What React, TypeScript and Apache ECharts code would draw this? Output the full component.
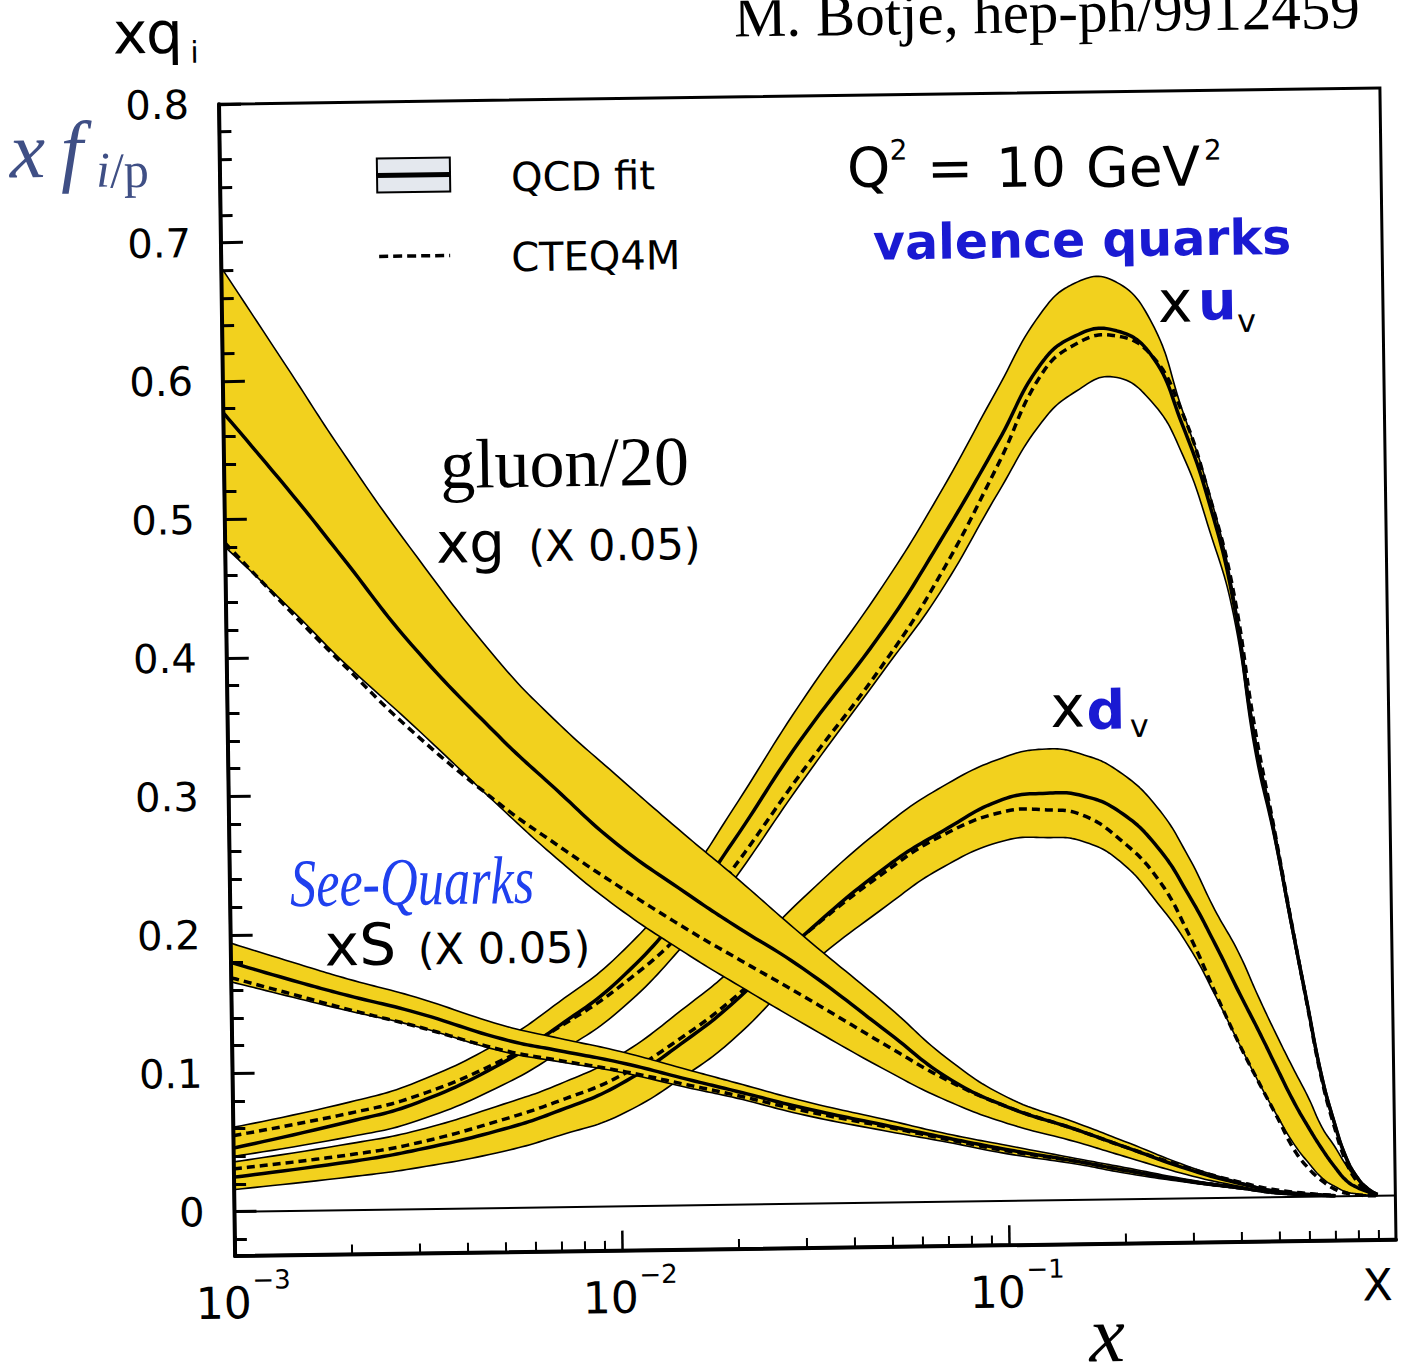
import React, { useEffect, useRef } from "react";
import * as echarts from "echarts";

// ---------- data ----------
// gluon (xg * 0.05) and sea (xS * 0.05)
const xGrid = [0.001, 0.0015, 0.002, 0.003, 0.005, 0.007, 0.01, 0.015, 0.02, 0.03, 0.05, 0.07, 0.1, 0.15, 0.2, 0.3, 0.4, 0.5, 0.7];
const gluonMid = [0.577, 0.517, 0.472, 0.408, 0.341, 0.302, 0.262, 0.226, 0.202, 0.17, 0.122, 0.09, 0.068, 0.051, 0.038, 0.02, 0.01, 0.004, 0.0005];
const gluonHi = [0.682, 0.605, 0.55, 0.478, 0.396, 0.352, 0.312, 0.268, 0.238, 0.194, 0.141, 0.104, 0.075, 0.056, 0.042, 0.022, 0.011, 0.0045, 0.0006];
const gluonLo = [0.48, 0.432, 0.396, 0.35, 0.29, 0.252, 0.216, 0.182, 0.16, 0.13, 0.094, 0.073, 0.056, 0.042, 0.031, 0.016, 0.008, 0.003, 0.0003];
const gluonCteq = [0.483, 0.43, 0.394, 0.345, 0.292, 0.262, 0.232, 0.2, 0.179, 0.15, 0.112, 0.088, 0.068, 0.051, 0.038, 0.021, 0.011, 0.005, 0.0006];

const seaMid = [0.18, 0.165, 0.155, 0.142, 0.122, 0.113, 0.104, 0.091, 0.082, 0.069, 0.055, 0.046, 0.037, 0.028, 0.021, 0.012, 0.007, 0.003, 0.0004];
const seaHi = [0.194, 0.178, 0.167, 0.153, 0.132, 0.122, 0.112, 0.098, 0.088, 0.074, 0.059, 0.049, 0.04, 0.03, 0.023, 0.013, 0.0077, 0.0034, 0.0005];
const seaLo = [0.166, 0.153, 0.144, 0.132, 0.113, 0.105, 0.097, 0.085, 0.077, 0.064, 0.051, 0.043, 0.034, 0.026, 0.019, 0.011, 0.0063, 0.0027, 0.0003];
const seaCteq = [0.169, 0.155, 0.145, 0.132, 0.114, 0.106, 0.098, 0.087, 0.079, 0.067, 0.054, 0.045, 0.036, 0.028, 0.021, 0.012, 0.007, 0.003, 0.0004];

// valence quarks
const xVal = [0.001, 0.002, 0.003, 0.005, 0.007, 0.01, 0.015, 0.02, 0.03, 0.05, 0.07, 0.1, 0.13, 0.16, 0.2, 0.25, 0.3, 0.35, 0.4, 0.45, 0.5, 0.55, 0.6, 0.65, 0.7, 0.75, 0.8, 0.85, 0.9];
const uvMid = [0.046, 0.064, 0.077, 0.105, 0.131, 0.163, 0.215, 0.262, 0.334, 0.414, 0.476, 0.548, 0.604, 0.624, 0.628, 0.61, 0.559, 0.502, 0.432, 0.33, 0.265, 0.199, 0.141, 0.088, 0.053, 0.027, 0.013, 0.005, 0.001];
const uvHi = [0.061, 0.078, 0.092, 0.121, 0.148, 0.181, 0.235, 0.285, 0.36, 0.446, 0.51, 0.586, 0.64, 0.662, 0.664, 0.635, 0.57, 0.51, 0.438, 0.335, 0.268, 0.202, 0.144, 0.091, 0.055, 0.029, 0.014, 0.006, 0.0015];
const uvLo = [0.04, 0.053, 0.064, 0.089, 0.112, 0.141, 0.19, 0.234, 0.303, 0.385, 0.44, 0.512, 0.562, 0.584, 0.594, 0.576, 0.537, 0.482, 0.422, 0.322, 0.26, 0.195, 0.138, 0.085, 0.051, 0.026, 0.012, 0.004, 0.0008];
const uvCteq = [0.055, 0.07, 0.082, 0.107, 0.13, 0.158, 0.2, 0.243, 0.31, 0.39, 0.452, 0.532, 0.596, 0.618, 0.624, 0.61, 0.568, 0.508, 0.44, 0.34, 0.268, 0.2, 0.14, 0.086, 0.05, 0.024, 0.01, 0.003, 0.0005];

const dvMid = [0.025, 0.035, 0.043, 0.057, 0.07, 0.088, 0.12, 0.147, 0.193, 0.243, 0.268, 0.29, 0.294, 0.292, 0.28, 0.254, 0.219, 0.183, 0.149, 0.12, 0.093, 0.069, 0.05, 0.034, 0.021, 0.011, 0.006, 0.003, 0.0005];
const dvHi = [0.036, 0.048, 0.057, 0.075, 0.089, 0.109, 0.144, 0.172, 0.22, 0.273, 0.3, 0.32, 0.326, 0.322, 0.309, 0.283, 0.247, 0.208, 0.178, 0.145, 0.117, 0.093, 0.072, 0.05, 0.036, 0.022, 0.012, 0.005, 0.001];
const dvLo = [0.016, 0.024, 0.03, 0.041, 0.052, 0.066, 0.095, 0.121, 0.168, 0.215, 0.242, 0.26, 0.262, 0.259, 0.244, 0.213, 0.181, 0.145, 0.111, 0.082, 0.058, 0.038, 0.024, 0.013, 0.007, 0.003, 0.0015, 0.0006, 0.0001];
const dvCteq = [0.031, 0.04, 0.048, 0.064, 0.077, 0.094, 0.124, 0.15, 0.193, 0.24, 0.265, 0.281, 0.282, 0.278, 0.26, 0.231, 0.19, 0.147, 0.111, 0.082, 0.057, 0.034, 0.02, 0.011, 0.005, 0.002, 0.0008, 0.0002, 0];

// axes
const yMajorTicks = [0, 0.1, 0.2, 0.3, 0.4, 0.5, 0.6, 0.7, 0.8];
const xMajorTicks = [0.001, 0.01, 0.1];
const xMajorExp = ["\u22123", "\u22122", "\u22121"];
const Y_MIN = -0.032;
const Y_MAX = 0.8;

// ---------- styling ----------
const SANS = "DejaVu Sans";
const SERIF = "Liberation Serif";
const BAND = "#f2d11e";
const BLUE = "#1a1ad2";
const SMOOTH = 0.45;

const yMinorTicks: number[] = [];
for (let i = -1; i <= 39; i++) {
  if (i % 5 !== 0) yMinorTicks.push(Number((i * 0.02).toFixed(2)));
}
const xMinorTicks: number[] = [];
[0.001, 0.01, 0.1].forEach((p) => {
  for (let k = 2; k <= 9; k++) xMinorTicks.push(Number((k * p).toPrecision(3)));
});

// smooth a list of pixel points (bezier through every point, zero tangent at the ends)
function smoothPts(pts: number[][]): number[][] {
  const n = pts.length;
  const cps: number[][][] = [];
  for (let i = 0; i < n; i++) {
    const p = pts[i];
    if (i === 0 || i === n - 1) {
      cps.push([p, p]);
      continue;
    }
    const a = pts[i - 1];
    const b = pts[i + 1];
    const vx = b[0] - a[0];
    const vy = b[1] - a[1];
    const d0 = Math.hypot(p[0] - a[0], p[1] - a[1]);
    const d1 = Math.hypot(b[0] - p[0], b[1] - p[1]);
    const sum = d0 + d1 || 1;
    cps.push([
      [p[0] - (vx * SMOOTH * d0) / sum, p[1] - (vy * SMOOTH * d0) / sum],
      [p[0] + (vx * SMOOTH * d1) / sum, p[1] + (vy * SMOOTH * d1) / sum],
    ]);
  }
  const out: number[][] = [pts[0]];
  const steps = 14;
  for (let i = 0; i < n - 1; i++) {
    const p0 = pts[i];
    const c1 = cps[i][1];
    const c2 = cps[i + 1][0];
    const p1 = pts[i + 1];
    for (let k = 1; k <= steps; k++) {
      const t = k / steps;
      const u = 1 - t;
      out.push([
        u * u * u * p0[0] + 3 * u * u * t * c1[0] + 3 * u * t * t * c2[0] + t * t * t * p1[0],
        u * u * u * p0[1] + 3 * u * u * t * c1[1] + 3 * u * t * t * c2[1] + t * t * t * p1[1],
      ]);
    }
  }
  return out;
}

function pdfGroup(xs: number[], mid: number[], hi: number[], lo: number[], cteq: number[], z: number) {
  return {
    type: "custom",
    coordinateSystem: "cartesian2d",
    xAxisIndex: 0,
    yAxisIndex: 0,
    z,
    silent: true,
    clip: true,
    data: [[xs[0], mid[0]]],
    renderItem: (_p: any, api: any) => {
      const path = (ys: number[]) => smoothPts(xs.map((x, i) => api.coord([x, ys[i]])));
      const top = path(hi);
      const bot = path(lo);
      const line = (pts: number[][], w: number, dash?: number[]) => ({
        type: "polyline",
        shape: { points: pts },
        style: { stroke: "#000", lineWidth: w, fill: null, lineDash: dash || null, lineJoin: "round" },
      });
      return {
        type: "group",
        children: [
          {
            type: "polygon",
            shape: { points: top.concat(bot.slice().reverse()) },
            style: { fill: BAND, stroke: null },
          },
          line(top, 1.6),
          line(bot, 1.6),
          line(path(mid), 3.5),
          line(path(cteq), 3.5, [8, 5]),
        ],
      };
    },
  };
}

function T(text: string, x: number, baseline: number, size: number, o: any = {}) {
  return {
    type: "text",
    x,
    y: baseline - 0.345 * size,
    z: 100,
    silent: true,
    scaleX: o.scaleX || 1,
    style: {
      text,
      fontSize: size,
      lineHeight: o.lh || size,
      fontFamily: o.family || SANS,
      fontStyle: o.italic ? "italic" : "normal",
      fontWeight: o.bold ? "bold" : "normal",
      fill: o.color || "#000",
      align: "left",
      verticalAlign: "middle",
      textAlign: "left",
      textVerticalAlign: "middle",
    },
  };
}

const staticGraphics: any[] = [
  // y label xq_i
  T("x", 122, 44, 58, { lh: 40 }),
  T("q", 155, 44, 58, { lh: 40 }),
  T("i", 199, 54, 30),
  // x f_{i/p}
  T("x", 17, 167, 80, { family: SERIF, italic: true, color: "#3f4f85" }),
  T("f", 68, 167, 80, { family: SERIF, italic: true, color: "#3f4f85" }),
  T("i", 103, 177, 50, { family: SERIF, italic: true, color: "#3f4f85" }),
  T("/p", 117, 178, 50, { family: SERIF, color: "#3f4f85" }),
  // header
  T("M. Botje, hep-ph/9912459", 743, 36, 59, { family: SERIF, lh: 44 }),
  // legend
  {
    type: "rect",
    z: 100,
    silent: true,
    shape: { x: 384, y: 152.5, width: 73, height: 34 },
    style: { fill: "#e4e8ee", stroke: "#000", lineWidth: 2 },
  },
  {
    type: "line",
    z: 101,
    silent: true,
    shape: { x1: 384, y1: 169.5, x2: 457, y2: 169.5 },
    style: { stroke: "#000", lineWidth: 5 },
  },
  {
    type: "line",
    z: 101,
    silent: true,
    shape: { x1: 385, y1: 250.5, x2: 456, y2: 250.5 },
    style: { stroke: "#000", lineWidth: 3.5, lineDash: [9, 5] },
  },
  T("QCD fit", 518, 187, 40),
  T("CTEQ4M", 517, 267, 40),
  // Q^2 = 10 GeV^2
  T("Q", 854, 187.6, 55),
  T("2", 897, 161, 28),
  T("=", 934, 189, 55),
  T("10", 1003, 189.7, 55),
  T("GeV", 1093, 191, 55),
  T("2", 1211, 165.5, 28),
  T("valence quarks", 879, 261, 49, { bold: true, color: BLUE }),
  // x u_v
  T("x", 1163, 327, 58),
  T("u", 1203, 325.5, 54, { bold: true, color: BLUE }),
  T("v", 1242, 338, 32),
  // x d_v
  T("x", 1050, 730.4, 58),
  T("d", 1086, 733, 54, { bold: true, color: BLUE }),
  T("v", 1129, 741.5, 32),
  // gluon
  T("gluon/20", 443, 483.6, 70, { family: SERIF }),
  T("xg", 438, 557.3, 56),
  T("(X 0.05)", 530, 557.3, 43),
  // sea
  T("See-Quarks", 287, 899.5, 68, { family: SERIF, italic: true, color: "#1f40ee", scaleX: 0.77 }),
  T("xS", 321, 958.8, 58),
  T("(X 0.05)", 414, 958.8, 43),
  // x axis title
  T("x", 1080, 1366, 80, { family: SERIF, italic: true, lh: 44 }),
];

const option: any = {
  animation: false,
  backgroundColor: "#fff",
  grid: {
    left: 227,
    top: 96,
    right: 24,
    bottom: 123,
    show: true,
    borderColor: "#000",
    borderWidth: 3,
    backgroundColor: "transparent",
  },
  xAxis: [
    {
      type: "log",
      logBase: 10,
      min: 0.001,
      max: 1,
      position: "bottom",
      z: 60,
      axisLine: { show: true, onZero: false, lineStyle: { color: "#000", width: 4 } },
      axisTick: { show: true, inside: true, length: 20, customValues: xMajorTicks, lineStyle: { color: "#000", width: 2.5 } },
      axisLabel: { show: false },
      splitLine: { show: false },
      minorTick: { show: false },
    },
    {
      type: "log",
      logBase: 10,
      min: 0.001,
      max: 1,
      position: "bottom",
      z: 60,
      axisLine: { show: false, onZero: false },
      axisTick: { show: true, inside: true, length: 10, customValues: xMinorTicks, lineStyle: { color: "#000", width: 2 } },
      axisLabel: { show: false },
      splitLine: { show: false },
    },
  ],
  yAxis: [
    {
      type: "value",
      min: Y_MIN,
      max: Y_MAX,
      position: "left",
      z: 60,
      axisLine: { show: true, onZero: false, lineStyle: { color: "#000", width: 4 } },
      axisTick: { show: true, inside: true, length: 22, customValues: yMajorTicks, lineStyle: { color: "#000", width: 3 } },
      axisLabel: {
        show: true,
        customValues: yMajorTicks,
        margin: 30,
        fontSize: 40,
        fontFamily: SANS,
        color: "#000",
        formatter: (v: number) => (v === 0 ? "0" : v.toFixed(1)),
      },
      splitLine: { show: false },
    },
    {
      type: "value",
      min: Y_MIN,
      max: Y_MAX,
      position: "left",
      z: 60,
      axisLine: { show: false, onZero: false },
      axisTick: { show: true, inside: true, length: 12, customValues: yMinorTicks, lineStyle: { color: "#000", width: 3 } },
      axisLabel: { show: false },
      splitLine: { show: false },
    },
  ],
  series: [
    {
      type: "line",
      xAxisIndex: 0,
      yAxisIndex: 0,
      data: [
        [0.001, 0],
        [1, 0],
      ],
      showSymbol: false,
      symbol: "none",
      silent: true,
      z: 5,
      lineStyle: { color: "#000", width: 2 },
    },
    pdfGroup(xVal, dvMid, dvHi, dvLo, dvCteq, 10),
    pdfGroup(xVal, uvMid, uvHi, uvLo, uvCteq, 12),
    pdfGroup(xGrid, seaMid, seaHi, seaLo, seaCteq, 14),
    pdfGroup(xGrid, gluonMid, gluonHi, gluonLo, gluonCteq, 16),
  ],
  graphic: { elements: staticGraphics },
};

export default function App() {
  const ref = useRef<HTMLDivElement>(null);
  useEffect(() => {
    if (!ref.current) return;
    const chart = echarts.init(ref.current, undefined, { renderer: "svg", width: 1412, height: 1371 });
    chart.setOption(option);
    const yb = chart.convertToPixel({ yAxisIndex: 0 }, Y_MIN) as number;
    const tickLabels: any[] = [];
    xMajorTicks.forEach((v, i) => {
      const xt = chart.convertToPixel({ xAxisIndex: 0 }, v) as number;
      tickLabels.push(T("10", xt - 40, yb + 62, 44));
      tickLabels.push(T(xMajorExp[i], xt + 17, yb + 33, 26));
    });
    const x1 = chart.convertToPixel({ xAxisIndex: 0 }, 1) as number;
    tickLabels.push(T("X", x1 - 34, yb + 60, 44));
    chart.setOption({ graphic: { elements: [...staticGraphics, ...tickLabels] } });
    return () => chart.dispose();
  }, []);
  return (
    <div
      style={{
        position: "fixed",
        left: 0,
        top: 0,
        width: 1412,
        height: 1371,
        overflow: "hidden",
        background: "#fff",
      }}
    >
      <div
        ref={ref}
        style={{
          width: 1412,
          height: 1371,
          transform: "rotate(-0.8deg)",
          transformOrigin: "807px 671.5px",
        }}
      />
    </div>
  );
}
